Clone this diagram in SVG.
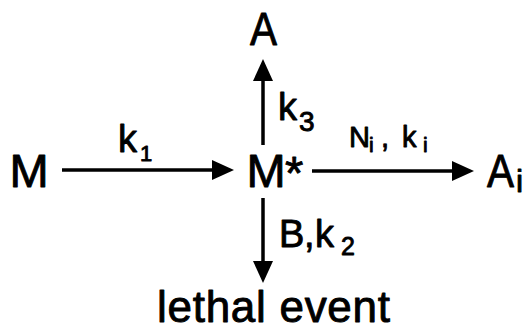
<svg xmlns="http://www.w3.org/2000/svg" width="526" height="331" viewBox="0 0 526 331">
<style>
text{font-family:"Liberation Sans",Arial,sans-serif;fill:#000;stroke:#000;stroke-width:0.9;stroke-linejoin:round}
.big{font-size:47px}
.lab{font-size:38px}
.conn line{stroke:#000;stroke-width:3.5;fill:none}
</style>
<defs>
<marker id="ah" markerUnits="userSpaceOnUse" markerWidth="22" markerHeight="20" refX="1" refY="10" orient="auto" overflow="visible">
<path d="M0,0 L22,10 L0,20 z" fill="#000"/>
</marker>
</defs>
<rect width="526" height="331" fill="#fff"/>
<g id="conn" class="conn">
<line x1="62" y1="170" x2="213" y2="170" marker-end="url(#ah)"/>
<line x1="312" y1="171" x2="453" y2="171" marker-end="url(#ah)"/>
<line x1="263" y1="145" x2="263" y2="80" marker-end="url(#ah)"/>
<line x1="263" y1="198" x2="263" y2="262" marker-end="url(#ah)"/>
<text class="lab" x="118" y="152">k<tspan x="140" y="161" font-size="22">1</tspan></text>
<text class="lab" x="278" y="120" font-size="35">k<tspan x="299" y="131" font-size="28">3</tspan></text>
<text class="lab" x="279" y="247" font-size="36">B<tspan x="304">,</tspan><tspan x="315">k</tspan><tspan x="341" y="255" font-size="25">2</tspan></text>
<text font-size="29" x="349" y="147">N<tspan x="369" y="152" font-size="21">i</tspan><tspan x="381" y="147">,</tspan><tspan x="402">k</tspan><tspan x="423" y="152" font-size="21">i</tspan></text>
</g>
<g id="node-M"><text class="big" x="29" y="187" text-anchor="middle">M</text></g>
<g id="node-Mstar"><text class="big" x="246.5" y="187">M<tspan x="285" y="189">*</tspan></text></g>
<g id="node-A"><text class="big" x="250" y="45" textLength="27" lengthAdjust="spacingAndGlyphs">A</text></g>
<g id="node-Ai"><text class="big" x="487" y="187"><tspan textLength="27" lengthAdjust="spacingAndGlyphs">A</tspan><tspan x="516" y="192" font-size="32">i</tspan></text></g>
<g id="node-lethal"><text font-size="44" x="157" y="322" textLength="233" lengthAdjust="spacing">lethal event</text></g>
</svg>
